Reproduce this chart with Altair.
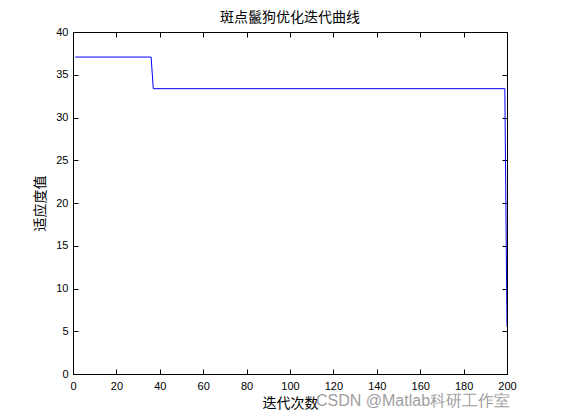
import altair as alt
import pandas as pd

# Data (iteration -> best fitness)
iterations = [1, 36, 37, 199, 200]
fitness = [37.07, 37.07, 33.37, 33.37, 5.53]
x_ticks = [0, 20, 40, 60, 80, 100, 120, 140, 160, 180, 200]
y_ticks = [0, 5, 10, 15, 20, 25, 30, 35, 40]
title_text = "斑点鬣狗优化迭代曲线"
x_title = "迭代次数"
y_title = "适应度值"
watermark = ["CSDN @Matlab科研工作室"]

W, H = 434, 342
df = pd.DataFrame({"iter": iterations, "fit": fitness})
base = alt.Chart(df)

xscale = alt.Scale(domain=[0, 200], nice=False, zero=False)
yscale = alt.Scale(domain=[0, 40], nice=False)

line = base.mark_line(color="#0000ff", strokeWidth=1, clip=True).encode(
    x=alt.X("iter:Q", scale=xscale, title=x_title,
            axis=alt.Axis(values=x_ticks, orient="bottom", ticks=False, tickSize=0,
                          domain=False, grid=False, labelPadding=6, titlePadding=5,
                          labelFlush=False)),
    y=alt.Y("fit:Q", scale=yscale, title=y_title,
            axis=alt.Axis(values=y_ticks, orient="left", ticks=False, tickSize=0,
                          domain=False, grid=False, labelPadding=5, titlePadding=8,
                          labelFlush=False)),
)

ticks_a = base.mark_line(opacity=0).encode(
    x=alt.X("iter:Q", scale=xscale, title=None,
            axis=alt.Axis(values=x_ticks, orient="top", offset=-H, labels=False,
                          domain=False, grid=False, ticks=True, tickSize=5)),
    y=alt.Y("fit:Q", scale=yscale, title=None,
            axis=alt.Axis(values=y_ticks, orient="right", offset=-W, labels=False,
                          domain=False, grid=False, ticks=True, tickSize=5)),
)

ticks_b = base.mark_line(opacity=0).encode(
    x=alt.X("iter:Q", scale=xscale, title=None,
            axis=alt.Axis(values=x_ticks, orient="bottom", offset=-H, labels=False,
                          domain=False, grid=False, ticks=True, tickSize=5)),
    y=alt.Y("fit:Q", scale=yscale, title=None,
            axis=alt.Axis(values=y_ticks, orient="left", offset=-W, labels=False,
                          domain=False, grid=False, ticks=True, tickSize=5)),
)

wm = alt.Chart(pd.DataFrame({"t": watermark})).mark_text(
    align="left", baseline="middle", fontSize=16, color="#9e9e9e",
    font="Liberation Sans"
).encode(text="t:N", x=alt.value(243), y=alt.value(369))

chart = alt.layer(line, ticks_a, ticks_b, wm).resolve_axis(
    x="independent", y="independent"
).properties(
    width=W, height=H,
    autosize="none",
    padding={"left": 65, "top": 24, "right": 40, "bottom": 37},
    title=alt.Title(title_text, font="Noto Sans CJK SC", fontSize=14,
                    fontWeight="normal", color="black", anchor="middle", offset=1),
).configure_view(stroke="black", strokeWidth=1).configure_axis(
    labelFont="Liberation Sans", labelFontSize=11, labelColor="black",
    tickColor="black", tickWidth=1,
    titleFont="Noto Sans CJK SC", titleFontSize=14, titleFontWeight="normal",
    titleColor="black",
)

chart.save("out.html", embed_options={"renderer": "svg", "actions": False})
